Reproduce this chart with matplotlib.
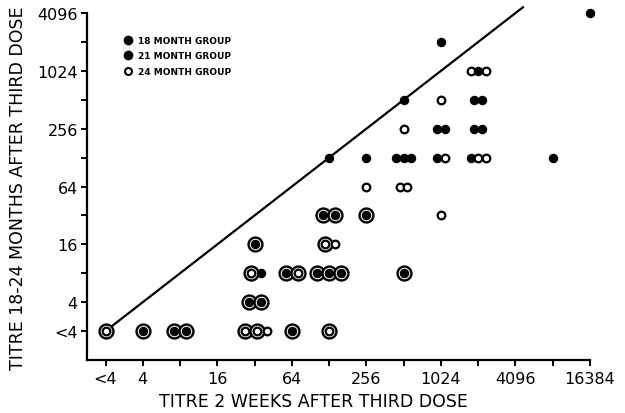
# Titre 18-24 months vs titre 2 weeks after third dose
import matplotlib.pyplot as plt
import numpy as np
from matplotlib.lines import Line2D
from matplotlib.ticker import FixedLocator, FixedFormatter, NullFormatter

# titre 2 stands for "<4"
x_ticks = [2, 4, 16, 64, 256, 1024, 4096, 16384]
x_tick_labels = ['<4', '4', '16', '64', '256', '1024', '4096', '16384']
y_ticks = [2, 4, 16, 64, 256, 1024, 4096]
y_tick_labels = ['<4', '4', '16', '64', '256', '1024', '4096']

# F = filled dot, O = open circle, RF / RO = ringed with filled / open centre
# one entry per cluster, markers in the cluster drawn side by side
pt_x = [2, 4, 8, 32, 64, 128,
        32,
        32, 64, 128, 512,
        32, 128,
        128, 256, 1024,
        256, 512,
        128, 256, 512, 1024, 2048, 8192,
        512, 1024, 2048,
        512, 1024, 2048,
        2048,
        1024,
        16384]
pt_y = [2, 2, 2, 2, 2, 2,
        4,
        8, 8, 8, 8,
        16, 16,
        32, 32, 32,
        64, 64,
        128, 128, 128, 128, 128, 128,
        256, 256, 256,
        512, 512, 512,
        1024,
        2048,
        4096]
pt_marks = ['RO', 'RF', 'RF RF', 'RO RO O', 'RF', 'RO',
            'RF RF',
            'RO F', 'RF RO', 'RF RF RF', 'RF',
            'RF', 'RO O',
            'RF RF', 'RF', 'O',
            'O', 'O O',
            'F', 'F', 'F F F', 'F O', 'F O O', 'F',
            'O', 'F F', 'F F',
            'F', 'O', 'F F',
            'O F O',
            'F',
            'F']

legend_labels = ['18 MONTH GROUP', '21 MONTH GROUP', '24 MONTH GROUP']

fig = plt.figure(figsize=(6.25, 4.14), dpi=100)
ax = fig.add_axes([0.139, 0.128, 0.805, 0.859])
ax.set_xscale('log', base=2)
ax.set_yscale('log', base=2)
xmin, xmax = 2 ** 0.5, 16384
ax.set_xlim(xmin, xmax)
ax.set_ylim(1, 2 ** 12.3)

# line of equality
ax.plot([2, 2 ** 12.2], [2, 2 ** 12.2], color='black', lw=1.6, clip_on=False)

px_per_unit = ax.bbox.width / np.log2(xmax / xmin)
width_px = {'F': 7.5, 'O': 7.5, 'RF': 12, 'RO': 12}

for x, y, marks in zip(pt_x, pt_y, pt_marks):
    kinds = marks.split()
    w = np.array([width_px[k] for k in kinds])
    centres = np.cumsum(w) - w / 2 - w.sum() / 2
    for k, c in zip(kinds, centres):
        xx = x * 2 ** (c / px_per_unit)
        if k.startswith('R'):
            ax.plot(xx, y, 'o', ms=10, mfc='white', mec='black', mew=1.7,
                    clip_on=False, zorder=3)
        if k.endswith('F'):
            ax.plot(xx, y, 'o', ms=5.8, mfc='black', mec='black', mew=1,
                    clip_on=False, zorder=4)
        else:
            ax.plot(xx, y, 'o', ms=5.5, mfc='white', mec='black', mew=1.6,
                    clip_on=False, zorder=4)

ax.xaxis.set_major_locator(FixedLocator(x_ticks))
ax.xaxis.set_major_formatter(FixedFormatter(x_tick_labels))
ax.xaxis.set_minor_locator(FixedLocator([2 ** k for k in range(3, 14, 2)]))
ax.xaxis.set_minor_formatter(NullFormatter())
ax.yaxis.set_major_locator(FixedLocator(y_ticks))
ax.yaxis.set_major_formatter(FixedFormatter(y_tick_labels))
ax.yaxis.set_minor_locator(FixedLocator([2 ** k for k in range(3, 12, 2)]))
ax.yaxis.set_minor_formatter(NullFormatter())
ax.tick_params(which='both', length=4.5, width=1.4, labelsize=11.5, direction='out')
ax.tick_params(axis='y', pad=2)

for s in ['top', 'right']:
    ax.spines[s].set_visible(False)
for s in ['left', 'bottom']:
    ax.spines[s].set_linewidth(1.6)
ax.spines['left'].set_bounds(1, 4096)

ax.set_xlabel('TITRE 2 WEEKS AFTER THIRD DOSE', fontsize=12.5)
ax.set_ylabel('TITRE 18-24 MONTHS AFTER THIRD DOSE', fontsize=12.5)
ax.xaxis.set_label_coords(0.451, -0.09)
ax.yaxis.set_label_coords(-0.12, 0.486)

handles = [Line2D([], [], ls='none', marker='o', ms=6, mfc='black', mec='black'),
           Line2D([], [], ls='none', marker='o', ms=6, mfc='black', mec='black'),
           Line2D([], [], ls='none', marker='o', ms=5, mfc='white', mec='black', mew=1.5)]
ax.legend(handles, legend_labels, loc='upper left', bbox_to_anchor=(0.0726, 0.912),
          frameon=False, borderaxespad=0, borderpad=0, handlelength=1,
          handletextpad=0.6, labelspacing=0.75, prop={'size': 6.5, 'weight': 'bold'})

fig.savefig('out.png', dpi=100)
